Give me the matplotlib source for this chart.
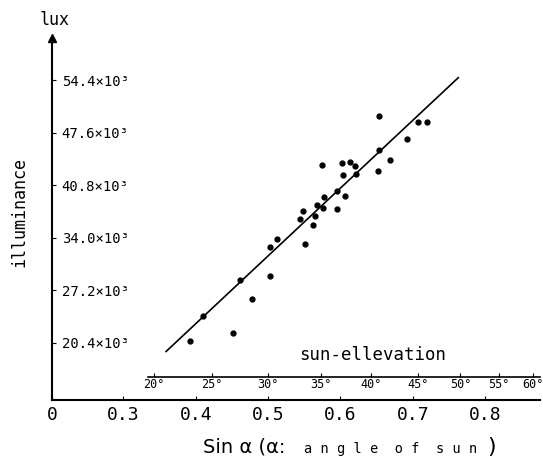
import numpy as np
import matplotlib.pyplot as plt

plt.rcParams['font.family'] = ['DejaVu Sans Mono', 'DejaVu Sans']

# measurements: sin(alpha) and illuminance (x10^3 lux)
sin_alpha = [0.392, 0.451, 0.478, 0.502, 0.503, 0.513, 0.551, 0.544, 0.548,
             0.562, 0.565, 0.567, 0.576, 0.577, 0.575, 0.596, 0.596, 0.606,
             0.604, 0.602, 0.613, 0.620, 0.622, 0.652, 0.654, 0.653, 0.669,
             0.692, 0.707, 0.720, 0.461, 0.410]
lux = [20.6, 21.7, 26.1, 29.0, 32.8, 33.9, 33.2, 36.4, 37.5,
       35.7, 36.8, 38.2, 37.8, 39.3, 43.4, 37.7, 40.1, 39.4,
       42.1, 43.7, 43.8, 43.3, 42.3, 42.7, 45.3, 49.7, 44.0,
       46.8, 49.0, 49.0, 28.6, 23.9]

# regression line end points
fit_x = [0.359, 0.763]
fit_y = [19.3, 54.7]

y_ticks = [20.4, 27.2, 34.0, 40.8, 47.6, 54.4]
y_labels = ["20.4×10³", "27.2×10³", "34.0×10³", "40.8×10³", "47.6×10³", "54.4×10³"]
x_ticks = [0.2013, 0.3, 0.4, 0.5, 0.6, 0.7, 0.8]
x_labels = ["0", "0.3", "0.4", "0.5", "0.6", "0.7", "0.8"]
sun_deg = [20, 25, 30, 35, 40, 45, 50, 55, 60]


def to_deg(x):
    return np.degrees(np.arcsin(np.clip(x, -1, 1)))


def to_sin(d):
    return np.sin(np.radians(d))


fig = plt.figure(figsize=(5.43, 4.67), dpi=100)
ax = fig.add_axes([0.0958, 0.1435, 0.8987, 0.7751])

ax.plot(fit_x, fit_y, color='black', lw=1.2)
ax.plot(sin_alpha, lux, 'o', color='black', ms=3.5)

ax.set_xlim(0.2013, 0.876)
ax.set_ylim(13.03, 59.83)

ax.set_xticks(x_ticks)
ax.set_xticklabels(x_labels, fontsize=13)
ax.set_yticks(y_ticks)
ax.set_yticklabels(y_labels, fontsize=10, ha='left')
ax.tick_params(axis='y', direction='in', length=3, pad=-7)
ax.tick_params(axis='x', direction='in', length=3, pad=4)

for s in ['top', 'right']:
    ax.spines[s].set_visible(False)
for s in ['left', 'bottom']:
    ax.spines[s].set_linewidth(1.5)

# arrow head on y axis
ax.plot(0, 1, '^', color='black', ms=6, transform=ax.transAxes, clip_on=False)

# sun elevation scale
sec = ax.secondary_xaxis(0.0635, functions=(to_deg, to_sin))
sec.set_xticks(sun_deg)
sec.set_xticklabels([f"{d}°" for d in sun_deg], fontsize=8.5)
sec.tick_params(direction='in', length=3, pad=1)
sec.spines['bottom'].set_bounds(19.5, to_deg(0.876))
sec.spines['bottom'].set_linewidth(1.2)

ax.text(0.645, 18.9, "sun-ellevation", fontsize=12.5, ha='center', va='center')

fig.text(55 / 543, 1 - 20 / 467, "lux", fontsize=12, ha='center', va='center')
fig.text(20 / 543, 1 - 212 / 467, "illuminance", fontsize=12,
         rotation=90, ha='center', va='center')
fig.text(203 / 543, 1 - 447 / 467, "Sin α (α:", fontsize=14,
         ha='left', va='center', family='DejaVu Sans')
fig.text(304 / 543, 1 - 449 / 467, "a n g l e  o f  s u n", fontsize=9.8,
         ha='left', va='center')
fig.text(487 / 543, 1 - 447 / 467, ")", fontsize=16,
         ha='left', va='center', family='DejaVu Sans')

fig.savefig("out.png", dpi=100)
